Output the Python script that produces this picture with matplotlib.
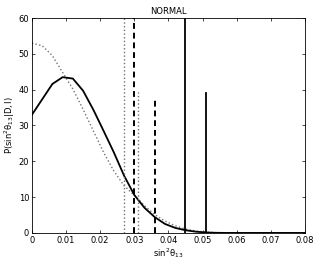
import numpy as np
import matplotlib
matplotlib.use("Agg")
import matplotlib.pyplot as plt

# posterior curves
x_pts = [0.0, 0.003, 0.006, 0.009, 0.012, 0.015, 0.018, 0.021, 0.024, 0.027,
         0.030, 0.033, 0.036, 0.039, 0.042, 0.045, 0.048, 0.051, 0.054, 0.057,
         0.060, 0.065, 0.070, 0.075, 0.080]
p_solid = [33.0, 37.3, 41.6, 43.5, 43.1, 39.7, 34.4, 28.5, 22.5, 16.0,
           10.6, 7.0, 4.4, 2.5, 1.4, 0.75, 0.35, 0.12, 0.03, 0.0,
           0.0, 0.0, 0.0, 0.0, 0.0]
p_dotted = [53.0, 52.3, 49.5, 44.8, 40.2, 34.5, 28.5, 22.5, 17.3, 13.2,
            10.5, 7.6, 5.1, 3.3, 2.0, 1.1, 0.55, 0.22, 0.06, 0.0,
            0.0, 0.0, 0.0, 0.0, 0.0]

# limits (x position, top of line, style)
lim_x = [0.027, 0.030, 0.031, 0.036, 0.045, 0.051]
lim_top = [60, 60, 39.4, 38.0, 60, 39.0]
lim_style = [':', '--', ':', '--', '-', '-']
lim_color = ['0.45', 'k', '0.45', 'k', 'k', 'k']

fig = plt.figure(figsize=(3.16, 2.62), dpi=100)
ax = fig.add_axes([0.101, 0.111, 0.864, 0.820])

ax.plot(x_pts, p_dotted, ':', color='0.45', lw=1.0)
ax.plot(x_pts, p_solid, '-', color='k', lw=1.3)
for xv, top, ls, c in zip(lim_x, lim_top, lim_style, lim_color):
    if ls == '--':
        ax.plot([xv, xv], [0, top], color=c, lw=1.4, dashes=(3, 2))
    else:
        ax.plot([xv, xv], [0, top], ls, color=c, lw=1.0 if ls == ':' else 1.3)

ax.set_xlim(0, 0.08)
ax.set_ylim(0, 60)
ax.set_xticks(np.arange(0, 0.081, 0.01))
ax.set_xticklabels(['0', '0.01', '0.02', '0.03', '0.04', '0.05', '0.06', '0.07', '0.08'])
ax.set_yticks(range(0, 61, 10))
ax.tick_params(direction='in', top=True, right=True, labelsize=6, length=2.5, width=0.5, pad=2)
for s in ax.spines.values():
    s.set_linewidth(0.6)

ax.set_title('NORMAL', fontsize=6, pad=3)
ax.set_xlabel(r'$\mathregular{sin^2\theta_{13}}$', fontsize=6, labelpad=1)
ax.set_ylabel(r'$\mathregular{P(sin^2\theta_{13}|D,I)}$', fontsize=6, labelpad=1)

fig.savefig('out.png', dpi=100)
